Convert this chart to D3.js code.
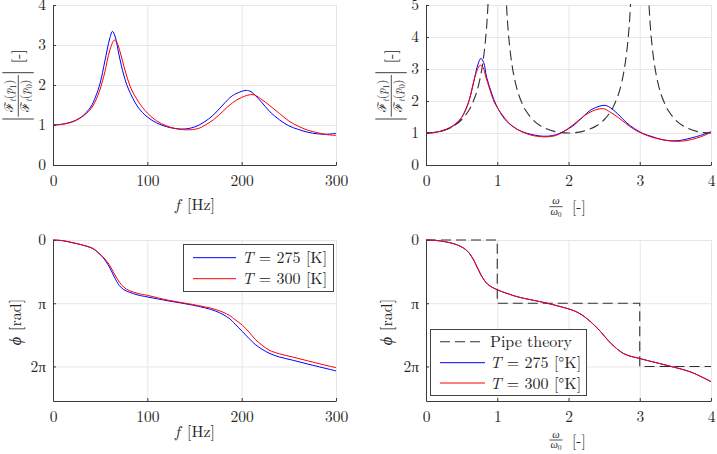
<!DOCTYPE html>
<html><head><meta charset="utf-8">
<script src="https://cdn.jsdelivr.net/npm/d3@7"></script>
<style>
body{margin:0;background:#fff}
svg{display:block;background:#fff}
text{font-family:"Latin Modern Roman","Liberation Serif",serif;fill:#262626}
</style></head><body>
<svg id="c" width="717" height="454"></svg>
<script>
// ---------------- DATA ----------------
const freqTicks = [0, 100, 200, 300];
const omegaTicks = [0, 1, 2, 3, 4];
const magTicksTL = [0, 1, 2, 3, 4];
const magTicksTR = [0, 1, 2, 3, 4, 5];
const phaseTickValues = [0, Math.PI, 2 * Math.PI];
const phaseTickLabels = ["0", "π", "2π"];

// |F(p1)/F(p0)| vs f [Hz]
const fMag275 = [0,10,20,30,40,45,50,55,60,63,66,70,75,80,90,100,110,120,130,140,150,160,170,180,190,200,205,210,220,230,240,250,260,270,280,290,300];
const mag275  = [1.0,1.02,1.08,1.2,1.45,1.7,2.05,2.6,3.15,3.34,3.2,2.75,2.25,1.9,1.45,1.2,1.05,0.96,0.91,0.9,0.95,1.07,1.25,1.5,1.73,1.84,1.865,1.83,1.6,1.33,1.13,0.98,0.89,0.82,0.78,0.77,0.79];
const fMag300 = [0,10,20,30,40,45,50,55,60,65,68,72,76,82,90,100,110,120,130,145,155,160,170,180,190,200,212,220,230,240,250,260,270,280,290,300];
const mag300  = [1.0,1.02,1.07,1.19,1.4,1.6,1.9,2.33,2.85,3.12,3.05,2.75,2.4,1.95,1.6,1.3,1.1,0.98,0.91,0.88,0.92,0.98,1.13,1.34,1.55,1.69,1.76,1.66,1.48,1.29,1.1,0.97,0.87,0.81,0.76,0.74];

// |F(p1)/F(p0)| vs omega/omega0
const wMag275 = [0,0.12,0.25,0.37,0.49,0.55,0.61,0.67,0.73,0.77,0.81,0.85,0.92,0.98,1.1,1.22,1.34,1.47,1.59,1.71,1.83,1.95,2.08,2.2,2.32,2.44,2.5,2.56,2.69,2.81,2.93,3.05,3.17,3.3,3.42,3.54,3.66,3.8,3.9,4.0];
const wmag275 = [1.0,1.02,1.08,1.2,1.45,1.7,2.05,2.6,3.15,3.33,3.2,2.75,2.25,1.9,1.45,1.2,1.05,0.96,0.91,0.9,0.95,1.07,1.25,1.5,1.73,1.84,1.865,1.83,1.6,1.33,1.13,0.98,0.89,0.8,0.76,0.76,0.81,0.89,0.96,1.04];
const wMag300 = [0,0.12,0.23,0.35,0.47,0.53,0.59,0.64,0.70,0.76,0.80,0.84,0.89,0.96,1.06,1.17,1.29,1.41,1.52,1.7,1.82,1.88,1.99,2.11,2.23,2.34,2.49,2.58,2.7,2.81,2.93,3.05,3.17,3.28,3.4,3.52,3.65,3.8,3.9,4.0];
const wmag300 = [1.0,1.02,1.07,1.19,1.4,1.6,1.9,2.33,2.85,3.12,3.05,2.75,2.4,1.95,1.6,1.3,1.1,0.98,0.91,0.88,0.92,0.98,1.13,1.34,1.55,1.69,1.76,1.66,1.48,1.29,1.1,0.97,0.87,0.81,0.76,0.74,0.76,0.84,0.92,1.02];

// Pipe theory magnitude (null = break at resonance)
const wPipe   = [0,0.1,0.2,0.3,0.4,0.5,0.6,0.65,0.7,0.75,0.8,0.85,0.9,null,1.1,1.15,1.2,1.25,1.3,1.35,1.4,1.5,1.6,1.7,1.8,1.9,2.0,2.1,2.2,2.3,2.4,2.5,2.6,2.65,2.7,2.75,2.8,2.85,2.9,null,3.1,3.15,3.2,3.25,3.3,3.35,3.4,3.5,3.6,3.7,3.8,3.9,4.0];
const magPipe = [1.0,1.012,1.051,1.122,1.236,1.414,1.701,1.923,2.203,2.613,3.236,4.29,6.39,null,6.39,4.29,3.236,2.613,2.203,1.923,1.701,1.414,1.236,1.122,1.051,1.012,1.0,1.012,1.051,1.122,1.236,1.414,1.701,1.923,2.203,2.613,3.236,4.29,6.39,null,6.39,4.29,3.236,2.613,2.203,1.923,1.701,1.414,1.236,1.122,1.051,1.012,1.0];

// Phase (in units of pi) vs f [Hz]
const fPh275 = [0,10,20,30,42,47,52.6,59.7,65,70.3,75,80.9,90,100,123,148,172.6,186.8,193,200.9,208,215,229,240,253.8,275,300];
const ph275  = [0,0.01,0.04,0.075,0.135,0.19,0.27,0.425,0.585,0.72,0.785,0.825,0.87,0.9,0.965,1.03,1.125,1.24,1.33,1.45,1.56,1.66,1.79,1.85,1.9,1.98,2.07];
const fPh300 = [0,10,20,30,42,47,52.6,59.7,65,70.3,75,80.9,90,100,123,148,172.6,186.8,193,200.9,208,215,229,240,253.8,275,300];
const ph300  = [0,0.01,0.04,0.075,0.13,0.185,0.26,0.39,0.535,0.665,0.745,0.8,0.845,0.875,0.955,1.02,1.1,1.19,1.26,1.35,1.46,1.58,1.74,1.8,1.85,1.93,2.02];

// Phase (in units of pi) vs omega/omega0
const wPh275 = [0,0.2,0.445,0.585,0.68,0.77,0.866,1.006,1.15,1.29,1.66,1.94,2.1,2.22,2.41,2.6,2.78,3.02,3.44,3.72,4.0];
const wph275 = [0,0.015,0.08,0.18,0.34,0.55,0.7,0.79,0.85,0.9,0.99,1.07,1.13,1.21,1.4,1.64,1.8,1.88,2.0,2.09,2.24];
const wPh300 = [0,0.2,0.445,0.585,0.68,0.77,0.866,1.006,1.15,1.29,1.66,1.94,2.1,2.22,2.41,2.6,2.78,3.02,3.44,3.72,4.0];
const wph300 = [0,0.015,0.08,0.18,0.34,0.55,0.7,0.79,0.85,0.9,0.99,1.07,1.13,1.21,1.4,1.64,1.8,1.88,2.0,2.09,2.24];

// Pipe theory phase (units of pi)
const wPipeStep  = [0,1,1,3,3,4];
const phPipeStep = [0,0,1,1,2,2];

const legendTemps = ["275", "300"];
const colBlue = "#0000ff", colRed = "#ff0000", colDash = "#303030";

// ---------------- DRAW ----------------
const svg = d3.select("#c");
const FONT = "'Latin Modern Roman','Liberation Serif',serif";

function zip(xs, ys){ return xs.map((v,i)=>({x:v, y:ys[i]})); }

function makePanel(p){
  const x = d3.scaleLinear().domain(p.xd).range([p.x0, p.x1]);
  const y = d3.scaleLinear().domain(p.yd).range(p.yr);
  const g = svg.append("g");
  const yTop = Math.min(p.yr[0], p.yr[1]), yBot = Math.max(p.yr[0], p.yr[1]);
  g.append("g").selectAll("line").data(p.xt).join("line")
    .attr("x1", d=>x(d)+0.5).attr("x2", d=>x(d)+0.5)
    .attr("y1", yTop).attr("y2", yBot+0.5)
    .attr("stroke", "#e6e6e6").attr("stroke-width", 1);
  g.append("g").selectAll("line").data(p.ytv).join("line")
    .attr("y1", d=>y(d)+0.5).attr("y2", d=>y(d)+0.5)
    .attr("x1", p.x0).attr("x2", p.x1+0.5)
    .attr("stroke", "#e6e6e6").attr("stroke-width", 1);
  const id = "clip-" + p.name;
  svg.append("clipPath").attr("id", id).append("rect")
    .attr("x", p.x0).attr("y", yTop - 1).attr("width", p.x1 - p.x0 + 1).attr("height", yBot - yTop + 2);
  const plot = g.append("g").attr("clip-path", `url(#${id})`);
  return {x, y, g, plot, p, yTop, yBot};
}

function drawAxes(P){
  const p = P.p;
  const ax = P.g.append("g").attr("transform", `translate(0,${P.yBot})`)
    .call(d3.axisBottom(P.x).tickValues(p.xt).tickSizeInner(-3).tickSizeOuter(0).tickPadding(10)
      .tickFormat(d3.format("d")));
  const ay = P.g.append("g").attr("transform", `translate(${p.x0},0)`)
    .call(d3.axisLeft(P.y).tickValues(p.ytv).tickSizeInner(-3).tickSizeOuter(0).tickPadding(7)
      .tickFormat((d,i)=>p.ytl[i]));
  [ax, ay].forEach(a=>{
    a.attr("font-size", 15.5).attr("font-family", FONT).attr("color", "#3a3a3a");
    a.selectAll("text").attr("fill", "#262626");
  });
}

function drawLine(P, xs, ys, color, dashed, scaleY){
  const k = scaleY || 1;
  const data = zip(xs, ys);
  const line = d3.line()
    .defined(d => d.x !== null && d.y !== null)
    .x(d => P.x(d.x)).y(d => P.y(d.y * k))
    .curve(dashed === "step" ? d3.curveLinear : d3.curveCatmullRom.alpha(0.5));
  P.plot.append("path").datum(data).attr("d", line)
    .attr("fill", "none").attr("stroke", color).attr("stroke-width", dashed ? 1.1 : 1)
    .attr("stroke-dasharray", dashed ? "10,5" : null)
    .attr("stroke-linejoin", "round");
}

function mathText(parent, x, y, size, parts, anchor){
  const t = parent.append("text").attr("x", x).attr("y", y).attr("font-size", size)
    .attr("text-anchor", anchor || "start");
  parts.forEach(pt=>{
    const ts = t.append("tspan").text(pt.t);
    if (pt.i) ts.attr("font-style", "italic");
    if (pt.s) ts.attr("font-size", pt.s);
    if (pt.dy) ts.attr("dy", pt.dy);
    if (pt.dx) ts.attr("dx", pt.dx);
  });
  return t;
}

function magYLabel(cx, cy){
  const g = svg.append("g").attr("transform", `translate(${cx},${cy}) rotate(-90)`);
  g.append("line").attr("x1", -33.7).attr("x2", -33.7).attr("y1", -16).attr("y2", 15.5).attr("stroke", "#262626").attr("stroke-width", 0.9);
  g.append("line").attr("x1", 12.6).attr("x2", 12.6).attr("y1", -16).attr("y2", 15.5).attr("stroke", "#262626").attr("stroke-width", 0.9);
  g.append("line").attr("x1", -31.4).attr("x2", 10.3).attr("y1", 0).attr("y2", 0).attr("stroke", "#262626").attr("stroke-width", 0.8);
  const num = sub => [{t:"ℱ"},{t:"t",i:1,s:8.5,dy:2.5},{t:"(",dy:-2.5},{t:"p",i:1},{t:sub,s:8.5,dy:2.5},{t:")",dy:-2.5}];
  mathText(g, -10.5, -5, 12, num("1"), "middle");
  mathText(g, -10.5, 11, 12, num("0"), "middle");
  g.append("text").attr("x", 22).attr("y", 4.7).attr("font-size", 15.5).text("[-]");
}

function omegaXLabel(cx, barY){
  const g = svg.append("g");
  g.append("line").attr("x1", cx-6.5).attr("x2", cx+6.5).attr("y1", barY).attr("y2", barY).attr("stroke", "#262626").attr("stroke-width", 0.8);
  mathText(g, cx, barY - 2.5, 10.5, [{t:"ω", i:1}], "middle");
  mathText(g, cx, barY + 8, 10.5, [{t:"ω", i:1},{t:"0", s:7.5, dy:2}], "middle");
  g.append("text").attr("x", cx + 16).attr("y", barY + 5.5).attr("font-size", 15.5).text("[-]");
}

function fXLabel(cx, baseY){
  mathText(svg, cx, baseY, 16, [{t:"f", i:1},{t:"[Hz]", dx:7}], "middle");
}

function phiYLabel(cx, cy){
  const g = svg.append("g").attr("transform", `translate(${cx},${cy}) rotate(-90)`);
  mathText(g, 0, 0, 16, [{t:"ϕ", i:1},{t:"[rad]", dx:6}], "middle");
}

// ---- Top-left
const TL = makePanel({name:"tl", xd:[0,300], yd:[0,4], x0:53, x1:336, yr:[165,5],
  xt:freqTicks, ytv:magTicksTL, ytl:magTicksTL.map(String)});
drawLine(TL, fMag275, mag275, colBlue);
drawLine(TL, fMag300, mag300, colRed);
drawAxes(TL);

// ---- Top-right
const TR = makePanel({name:"tr", xd:[0,4], yd:[0,5], x0:426, x1:711, yr:[165,5],
  xt:omegaTicks, ytv:magTicksTR, ytl:magTicksTR.map(String)});
drawLine(TR, wPipe, magPipe, colDash, true);
drawLine(TR, wMag275, wmag275, colBlue);
drawLine(TR, wMag300, wmag300, colRed);
drawAxes(TR);

// ---- Bottom-left
const BL = makePanel({name:"bl", xd:[0,300], yd:[0,8], x0:53, x1:336, yr:[240,401],
  xt:freqTicks, ytv:phaseTickValues, ytl:phaseTickLabels});
drawLine(BL, fPh275, ph275, colBlue, false, Math.PI);
drawLine(BL, fPh300, ph300, colRed, false, Math.PI);
drawAxes(BL);

// ---- Bottom-right
const BR = makePanel({name:"br", xd:[0,4], yd:[0,8], x0:426, x1:711, yr:[240,401],
  xt:omegaTicks, ytv:phaseTickValues, ytl:phaseTickLabels});
drawLine(BR, wPipeStep, phPipeStep, colDash, "step", Math.PI);
drawLine(BR, wPh275, wph275, colBlue, false, Math.PI);
drawLine(BR, wPh300, wph300, colRed, false, Math.PI);
drawAxes(BR);

// ---- Axis labels
magYLabel(18.3, 85.3);
magYLabel(391.3, 85.3);
fXLabel(195, 210);
fXLabel(195, 437);
omegaXLabel(556, 206.7);
omegaXLabel(556, 440);
phiYLabel(21, 322);
phiYLabel(392, 322);

// ---- Legends
function legend(x, y, w, h, rows){
  const g = svg.append("g");
  g.append("rect").attr("x", x+0.5).attr("y", y+0.5).attr("width", w).attr("height", h)
    .attr("fill", "#fff").attr("stroke", "#444").attr("stroke-width", 1);
  rows.forEach(r=>{
    g.append("line").attr("x1", r.lx0).attr("x2", r.lx1).attr("y1", r.y).attr("y2", r.y)
      .attr("stroke", r.color).attr("stroke-width", r.dash ? 1.1 : 1)
      .attr("stroke-dasharray", r.dash ? "10,5" : null);
    mathText(g, r.tx, r.y + 5.5, 16, r.parts);
  });
}
const tempParts = (t, deg) => [{t:"T", i:1},{t:" = " + t + " [" + (deg ? "°" : "") + "K]"}];
legend(183, 244, 150, 47, legendTemps.map((t,i)=>({
  y: [257.7, 278.7][i], lx0:193, lx1:236, tx:242, color:[colBlue,colRed][i], parts:tempParts(t,false)})));
legend(430, 329, 156, 66, [
  {y:341.7, lx0:440, lx1:485, tx:490, color:colDash, dash:true, parts:[{t:"Pipe theory"}]},
  {y:362.7, lx0:440, lx1:485, tx:490, color:colBlue, parts:tempParts(legendTemps[0], true)},
  {y:383, lx0:440, lx1:485, tx:490, color:colRed, parts:tempParts(legendTemps[1], true)}
]);
</script>
</body></html>
